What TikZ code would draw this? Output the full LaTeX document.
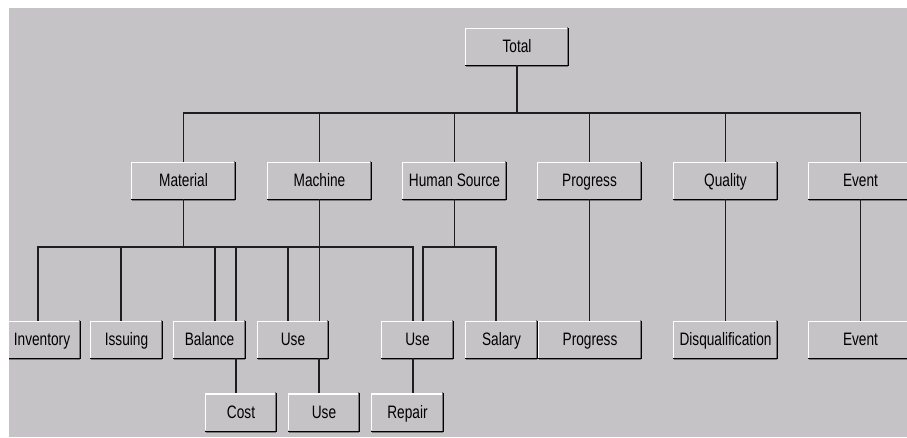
\documentclass[tikz,border=0pt]{standalone}
\usepackage{fontspec}
\setmainfont{Liberation Sans}[FakeStretch=0.76]
\usetikzlibrary{calc}
\definecolor{bgrey}{RGB}{198,195,198}
\definecolor{dgrey}{RGB}{120,120,120}
\definecolor{lnc}{RGB}{30,30,30}
\tikzset{
  btn/.style={rectangle, inner sep=0pt, minimum height=37pt, fill=bgrey,
    text height=14pt, text depth=2pt,
    font=\fontsize{18}{20}\selectfont, text=black},
  wire/.style={lnc, line width=1.3pt},
}
\newcommand\bevel[1]{%
  \draw[white, line width=1.2pt] ([shift={(0.6,-0.6)}]#1.south west) -- ([shift={(0.6,0.6)}]#1.north west) -- ([shift={(-0.6,0.6)}]#1.north east);
  \draw[dgrey, line width=1pt] ([shift={(1.2,1.7)}]#1.south west) -- ([shift={(-1.7,1.7)}]#1.south east) -- ([shift={(-1.7,-1.2)}]#1.north east);
  \draw[black, line width=1.2pt] ([shift={(0,0.6)}]#1.south west) -- ([shift={(-0.6,0.6)}]#1.south east) -- ([shift={(-0.6,0)}]#1.north east);
}
\begin{document}
\begin{tikzpicture}[x=1pt,y=-1pt]
\useasboundingbox (0,0) rectangle (907,437);
\fill[white] (0,0) rectangle (907,437);
\fill[bgrey] (9,8) rectangle (907,437);
\begin{scope}
\clip (9,8) rectangle (907,437);
% nodes
\node[btn, minimum width=104pt] (total) at (517,46.5) {Total};
\node[btn, minimum width=105pt] (material) at (183.5,180.5) {Material};
\node[btn, minimum width=105pt] (machine) at (319.5,180.5) {Machine};
\node[btn, minimum width=105pt] (human) at (454.5,180.5) {Human Source};
\node[btn, minimum width=105pt] (progress) at (589.5,180.5) {Progress};
\node[btn, minimum width=105pt] (quality) at (725.5,180.5) {Quality};
\node[btn, minimum width=105pt] (event) at (860.5,180.5) {Event};
\node[btn, minimum width=86pt] (inventory) at (38,339.5) {\hspace*{8pt}Inventory};
\node[btn, minimum width=73pt] (issuing) at (126.5,339.5) {Issuing};
\node[btn, minimum width=73pt] (balance) at (209.5,339.5) {Balance};
\node[btn, minimum width=72pt] (use) at (293,339.5) {Use};
\node[btn, minimum width=73pt] (usetwo) at (417.5,339.5) {Use};
\node[btn, minimum width=73pt] (salary) at (501.5,339.5) {Salary};
\node[btn, minimum width=104pt] (progresstwo) at (590,339.5) {Progress};
\node[btn, minimum width=105pt] (disq) at (725.5,339.5) {Disqualification};
\node[btn, minimum width=105pt] (eventtwo) at (860.5,339.5) {Event};
\node[btn, minimum width=72pt] (cost) at (241,412) {Cost};
\node[btn, minimum width=72pt] (usethree) at (324,412) {Use};
\node[btn, minimum width=73pt] (repair) at (407.5,412) {Repair};
\foreach \n in {total,material,machine,human,progress,quality,event,inventory,issuing,balance,use,usetwo,salary,progresstwo,disq,eventtwo,cost,usethree,repair}{\bevel{\n}}
% bus levels
\coordinate (ytop) at (0,113);
\coordinate (ymid) at (0,247);
% Total level
\draw[wire] (total.south) -- (total.south |- ytop);
\draw[wire] (material.north) -- (material.north |- ytop) -- (event.north |- ytop) -- (event.north);
\foreach \n in {machine,human,progress,quality}{\draw[wire] (\n.north) -- (\n.north |- ytop);}
% Material bus
\coordinate (ua) at ($(usetwo.north)+(-4.5,0)$);
\coordinate (iss) at ($(issuing.north)+(-5.5,0)$);
\coordinate (bal1) at ($(balance.north)+(5.5,0)$);
\coordinate (bal2) at ($(balance.north)+(26.5,0)$);
\coordinate (use1) at ($(use.north)+(-5,0)$);
\draw[wire] (material.south) -- (material.south |- ymid);
\draw[wire] (inventory.north) -- (inventory.north |- ymid) -- (ua |- ymid) -- (ua);
\foreach \c in {iss,bal1,bal2,use1}{\draw[wire] (\c) -- (\c |- ymid);}
% Machine
\draw[wire] (machine.south) -- (machine.south |- use.north);
% Human Source
\coordinate (ub) at ($(usetwo.north)+(5.5,0)$);
\coordinate (sal) at ($(salary.north)+(-5.5,0)$);
\draw[wire] (human.south) -- (human.south |- ymid);
\draw[wire] (ub) -- (ub |- ymid) -- (sal |- ymid) -- (sal);
% single chains
\draw[wire] (progress.south) -- (progress.south |- progresstwo.north);
\draw[wire] (quality.south) -- (disq.north);
\draw[wire] (event.south) -- (eventtwo.north);
% third level
\coordinate (cst) at ($(cost.north)+(-5,0)$);
\coordinate (ut) at ($(usethree.north)+(-5,0)$);
\coordinate (rp) at ($(repair.north)+(5.5,0)$);
\draw[wire] (cst |- balance.south) -- (cst);
\draw[wire] (ut |- use.south) -- (ut);
\draw[wire] (rp |- usetwo.south) -- (rp);
\end{scope}
\end{tikzpicture}
\end{document}
